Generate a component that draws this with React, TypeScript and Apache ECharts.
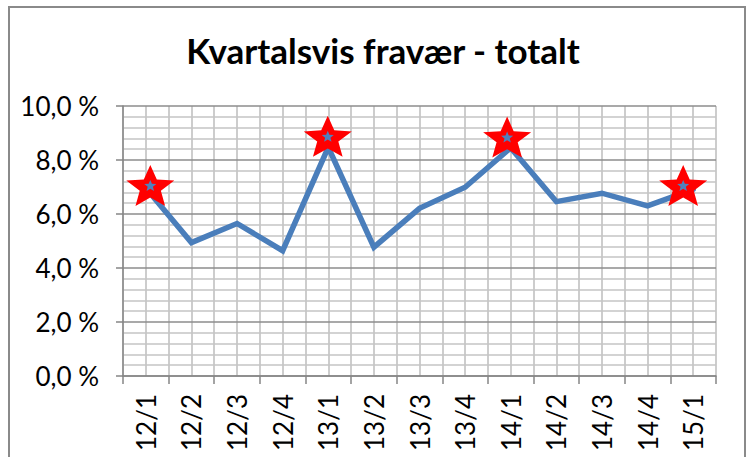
import React, { useEffect, useRef } from 'react';
import * as echarts from 'echarts';

const TITLE = 'Kvartalsvis fravær - totalt';
const categories = ['12/1', '12/2', '12/3', '12/4', '13/1', '13/2', '13/3', '13/4', '14/1', '14/2', '14/3', '14/4', '15/1'];
const values = [6.96, 4.94, 5.65, 4.64, 8.47, 4.77, 6.21, 6.99, 8.45, 6.46, 6.77, 6.3, 6.91];
const starCategories = ['12/1', '13/1', '14/1', '15/1'];
const starValues = [7.06, 8.88, 8.85, 7.06];
const Y_MIN = 0;
const Y_MAX = 10;
const Y_STEP = 2;

// per-star horizontal nudges (style, px)
const starOffsets = [4.5, -0.5, -3.6, -10];

function starPath(inner: number): string {
  let d = '';
  for (let i = 0; i < 10; i++) {
    const a = ((-90 + i * 36) * Math.PI) / 180;
    const r = i % 2 === 0 ? 1 : inner;
    d += (i === 0 ? 'M' : 'L') + (r * Math.cos(a)).toFixed(4) + ' ' + (r * Math.sin(a)).toFixed(4) + ' ';
  }
  return 'path://' + d + 'Z';
}

const fmt = (v: number) => v.toFixed(1).replace('.', ',') + '\u00a0%';

export default function App() {
  const ref = useRef<HTMLDivElement>(null);
  useEffect(() => {
    if (!ref.current) return;
    const chart = echarts.init(ref.current, undefined, { renderer: 'svg' });
    const star = starPath(0.44);
    const starData = starCategories.map((c, i) => ({
      value: [c, starValues[i]],
      symbolOffset: [starOffsets[i], 0],
    }));
    chart.setOption({
      animation: false,
      backgroundColor: '#ffffff',
      title: {
        text: TITLE,
        left: 378,
        textAlign: 'center',
        top: 27,
        textStyle: { fontFamily: 'Lato', fontWeight: 'bold', fontSize: 35, color: '#000' },
      },
      graphic: [
        {
          type: 'rect',
          silent: true,
          shape: { x: 9, y: 7, width: 736, height: 470 },
          style: { fill: 'none', stroke: '#8a8a8a', lineWidth: 2 },
        },
      ],
      grid: { left: 123, right: 34, top: 106, bottom: 81 },
      xAxis: [
        {
          type: 'category',
          data: categories,
          boundaryGap: true,
          axisLine: { show: true, lineStyle: { color: '#868686', width: 1.5 } },
          axisTick: { show: true, length: 8, lineStyle: { color: '#868686', width: 1.5 } },
          axisLabel: { rotate: 90, margin: 18, interval: 0, fontFamily: 'Lato', fontSize: 26, color: '#000' },
          splitLine: { show: false },
          z: 3,
        },
        {
          type: 'value',
          min: 0,
          max: categories.length * 2,
          interval: 1,
          position: 'bottom',
          axisLine: { show: false },
          axisTick: { show: false },
          axisLabel: { show: false },
          splitLine: { show: true, lineStyle: { color: '#bdbdbd', width: 1.5 } },
        },
      ],
      yAxis: {
        type: 'value',
        min: Y_MIN,
        max: Y_MAX,
        interval: Y_STEP,
        axisLine: { show: true, lineStyle: { color: '#868686', width: 1.5 } },
        axisTick: { show: true, length: 7, lineStyle: { color: '#868686', width: 1.5 } },
        axisLabel: { margin: 24, formatter: fmt, fontFamily: 'Lato', fontSize: 26, color: '#000' },
        splitLine: { show: true, lineStyle: { color: '#8c8c8c', width: 1.5 } },
        minorTick: { show: false, splitNumber: 5 },
        minorSplitLine: { show: true, lineStyle: { color: '#c4c4c4', width: 1.5 } },
        z: 3,
      },
      series: [
        {
          type: 'line',
          xAxisIndex: 0,
          data: values,
          symbol: 'none',
          lineStyle: { color: '#4a7ebb', width: 5.5, cap: 'round', join: 'miter' },
          itemStyle: { color: '#4a7ebb' },
          z: 4,
        },
        {
          type: 'scatter',
          xAxisIndex: 0,
          data: starData,
          symbol: star,
          symbolSize: [48, 41],
          itemStyle: { color: '#ff0000', opacity: 1 },
          z: 5,
        },
        {
          type: 'scatter',
          xAxisIndex: 0,
          data: starData,
          symbol: star,
          symbolSize: [12, 11],
          itemStyle: { color: '#4f81bd', opacity: 1 },
          z: 6,
        },
      ],
    });
    return () => chart.dispose();
  }, []);
  return <div ref={ref} style={{ position: 'fixed', left: 0, top: 0, width: 750, height: 457 }} />;
}
